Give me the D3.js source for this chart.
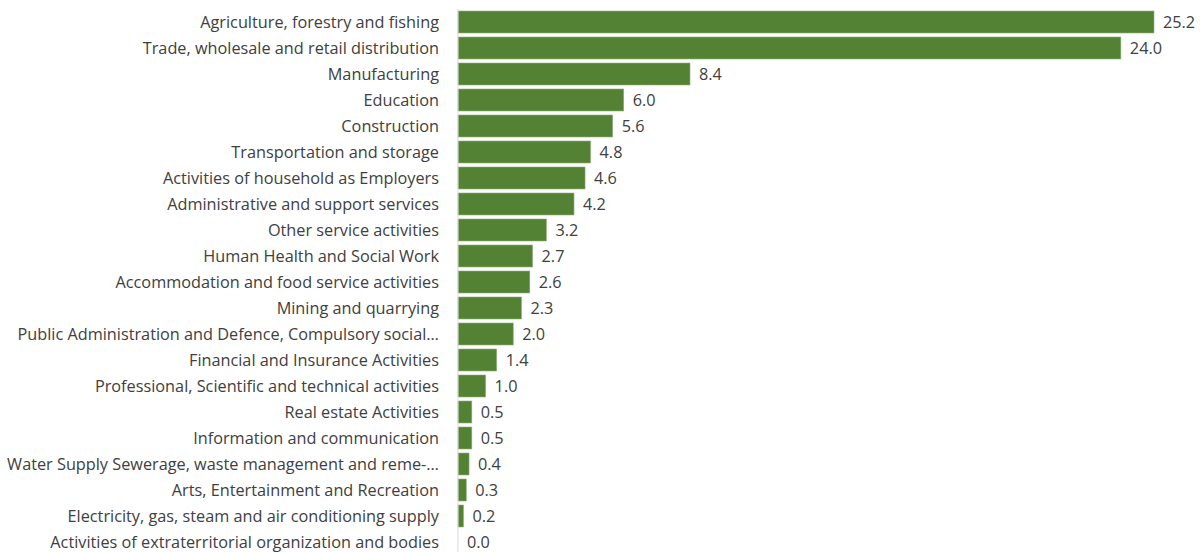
<!DOCTYPE html>
<html><head><meta charset="utf-8">
<script src="https://cdn.jsdelivr.net/npm/d3@7"></script>
<style>body{margin:0;background:#fff}svg{display:block}</style>
</head><body>
<svg id="c" width="1200" height="552"></svg>
<script>
const categories = [
 "Agriculture, forestry and fishing",
 "Trade, wholesale and retail distribution",
 "Manufacturing",
 "Education",
 "Construction",
 "Transportation and storage",
 "Activities of household as Employers",
 "Administrative and support services",
 "Other service activities",
 "Human Health and Social Work",
 "Accommodation and food service activities",
 "Mining and quarrying",
 "Public Administration and Defence, Compulsory social…",
 "Financial and Insurance Activities",
 "Professional, Scientific and technical activities",
 "Real estate Activities",
 "Information and communication",
 "Water Supply Sewerage, waste management and reme-…",
 "Arts, Entertainment and Recreation",
 "Electricity, gas, steam and air conditioning supply",
 "Activities of extraterritorial organization and bodies"
];
const values = [25.2, 24.0, 8.4, 6.0, 5.6, 4.8, 4.6, 4.2, 3.2, 2.7, 2.6, 2.3, 2.0, 1.4, 1.0, 0.5, 0.5, 0.4, 0.3, 0.2, 0.0];

const svg = d3.select("#c");
const x0 = 458;
const x = d3.scaleLinear().domain([0, 25.2]).range([x0, 1154]);
const y = d3.scaleBand().domain(categories).range([9, 555]).paddingInner(4/26).paddingOuter(2/26);
const font = "'Open Sans', sans-serif";

// pick font size so the widest label fits in ~432px as in reference
const probe = svg.append("g").attr("font-family", font).attr("font-size", 16);
let maxW = 0;
categories.forEach(c => { const t = probe.append("text").text(c); maxW = Math.max(maxW, t.node().getComputedTextLength()); });
probe.remove();
const fs = Math.min(17, Math.max(12, 16 * 432 / maxW));

svg.selectAll("rect.bar").data(values).join("rect")
  .attr("class","bar")
  .attr("x", x0)
  .attr("y", (d,i)=>y(categories[i]))
  .attr("width", d=>x(d)-x0)
  .attr("height", y.bandwidth())
  .attr("fill", "#548235")
  .attr("stroke", "#8fb07a")
  .attr("stroke-width", d=> d>0 ? 0.6 : 0);

svg.append("line").attr("x1", x0).attr("x2", x0).attr("y1", 9).attr("y2", 552)
  .attr("stroke", "#d9d9d9").attr("stroke-width", 1);

const yAxis = d3.axisLeft(y).tickSize(0).tickPadding(19);
const g = svg.append("g").attr("transform", `translate(${x0},0)`).call(yAxis);
g.select(".domain").remove();
g.selectAll("text").attr("font-family", font).attr("font-size", fs).attr("fill", "#404040").attr("dy","0.36em");

svg.selectAll("text.val").data(values).join("text")
  .attr("class","val")
  .attr("x", d=>x(d)+9)
  .attr("y", (d,i)=>y(categories[i]) + y.bandwidth()/2)
  .attr("dy", "0.34em")
  .attr("font-family", font).attr("font-size", fs).attr("fill", "#404040")
  .text(d=>d.toFixed(1));
</script>
</body></html>
